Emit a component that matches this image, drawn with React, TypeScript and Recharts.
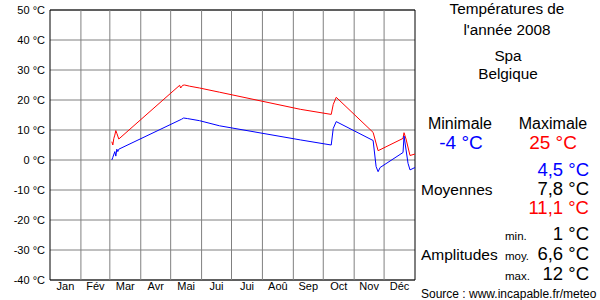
import { CartesianGrid, Line, LineChart, ReferenceArea, ReferenceLine, XAxis, YAxis } from "recharts";

// day of year 2008 (0 = 1 Jan), daily max / min in °C
const maxDays = [62, 63, 64, 65, 66, 67, 69, 130, 131, 133, 135, 140, 150, 170, 251, 282, 284, 287, 324, 329, 354, 355, 357, 361, 366];
const maxTemps = [6.1, 5, 7.2, 8.3, 9.8, 8.9, 7, 24.9, 24, 24.9, 25, 24.6, 24, 22.6, 16.9, 15.2, 18.5, 20.9, 9.2, 3.1, 7.2, 9.1, 7, 1.5, 2];

const minDays = [62, 63, 65, 66, 67, 68, 69, 132, 134, 138, 150, 170, 251, 282, 284, 287, 324, 327, 329, 331, 354, 355, 359, 361, 366];
const minTemps = [0, 0.9, 2.8, 1.3, 3.6, 2.8, 3.6, 13.6, 14, 13.8, 13.1, 11.4, 6.7, 5, 10.5, 12.8, 6.5, -2.2, -3.9, -2.5, 2.5, 8, -1.1, -3.3, -2.5];

const monthStarts = [0, 31, 60, 91, 121, 152, 182, 213, 244, 274, 305, 335, 366];
const monthLabels = ["Jan", "Fév", "Mar", "Avr", "Mai", "Jui", "Jui", "Aoû", "Sep", "Oct", "Nov", "Déc"];
const yTicks = [-40, -30, -20, -10, 0, 10, 20, 30, 40, 50];

const maxData = maxDays.map((d, i) => ({ day: d, t: maxTemps[i] }));
const minData = minDays.map((d, i) => ({ day: d, t: minTemps[i] }));
const monthMids = monthLabels.map((_, i) => (monthStarts[i] + monthStarts[i + 1]) / 2);

const FONT = "'Liberation Sans', Arial, sans-serif";

export default function App() {
  return (
    <div style={{ position: "absolute", left: 0, top: 0, width: 600, height: 300, background: "#fff", fontFamily: FONT }}>
      <LineChart width={600} height={300} margin={{ top: 10, right: 185, bottom: 0, left: 0 }}>
        <CartesianGrid vertical={false} stroke="#808080" />
        <XAxis
          dataKey="day"
          type="number"
          domain={[0, 366]}
          ticks={monthMids}
          tickFormatter={(v: number) => monthLabels[monthMids.indexOf(v)]}
          height={20}
          axisLine={false}
          tickLine={false}
          tickSize={0}
          tickMargin={2}
          tick={{ fontSize: 11, fill: "#000", fontFamily: FONT }}
          allowDataOverflow
        />
        <YAxis
          type="number"
          domain={[-40, 50]}
          ticks={yTicks}
          tickFormatter={(v: number) => `${v} °C`}
          width={50}
          axisLine={false}
          tickLine={false}
          tickSize={0}
          tickMargin={5}
          tick={{ fontSize: 11, fill: "#000", fontFamily: FONT }}
        />
        {monthStarts.slice(1, 12).map((m) => (
          <ReferenceLine key={m} x={m} stroke="#808080" />
        ))}
        <Line data={maxData} dataKey="t" type="linear" stroke="#ff0000" strokeWidth={1} dot={false} isAnimationActive={false} />
        <Line data={minData} dataKey="t" type="linear" stroke="#0000ff" strokeWidth={1} dot={false} isAnimationActive={false} />
        <ReferenceArea x1={0} x2={366} y1={-40} y2={50} fill="none" fillOpacity={0} stroke="#000" strokeOpacity={1} />
      </LineChart>
      <svg width={600} height={300} style={{ position: "absolute", left: 0, top: 0, pointerEvents: "none" }} fontFamily={FONT}>
        <text x={507} y={14} fontSize={15.3} textAnchor="middle">Températures de</text>
        <text x={507} y={35} fontSize={15.3} textAnchor="middle">l'année 2008</text>
        <text x={508} y={60.5} fontSize={15.3} textAnchor="middle">Spa</text>
        <text x={508} y={79} fontSize={15.3} textAnchor="middle">Belgique</text>
        <text x={460} y={129} fontSize={16} textAnchor="middle">Minimale</text>
        <text x={553} y={129} fontSize={16} textAnchor="middle">Maximale</text>
        <text x={461} y={148.5} fontSize={19} textAnchor="middle" fill="#0000ff">-4 °C</text>
        <text x={553} y={148.5} fontSize={19} textAnchor="middle" fill="#ff0000">25 °C</text>
        <text x={589} y={176} fontSize={18.5} textAnchor="end" fill="#0000ff">4,5 °C</text>
        <text x={421} y={195} fontSize={15.5}>Moyennes</text>
        <text x={589} y={195} fontSize={18.5} textAnchor="end">7,8 °C</text>
        <text x={589} y={214} fontSize={18.5} textAnchor="end" fill="#ff0000">11,1 °C</text>
        <text x={505} y={240} fontSize={11.5}>min.</text>
        <text x={589} y={240} fontSize={18.5} textAnchor="end">1 °C</text>
        <text x={421} y={260} fontSize={15.5}>Amplitudes</text>
        <text x={505} y={260} fontSize={11.5}>moy.</text>
        <text x={589} y={260} fontSize={18.5} textAnchor="end">6,6 °C</text>
        <text x={505} y={280} fontSize={11.5}>max.</text>
        <text x={589} y={280} fontSize={18.5} textAnchor="end">12 °C</text>
        <text x={421} y={298} fontSize={12}>Source : www.incapable.fr/meteo</text>
      </svg>
    </div>
  );
}
